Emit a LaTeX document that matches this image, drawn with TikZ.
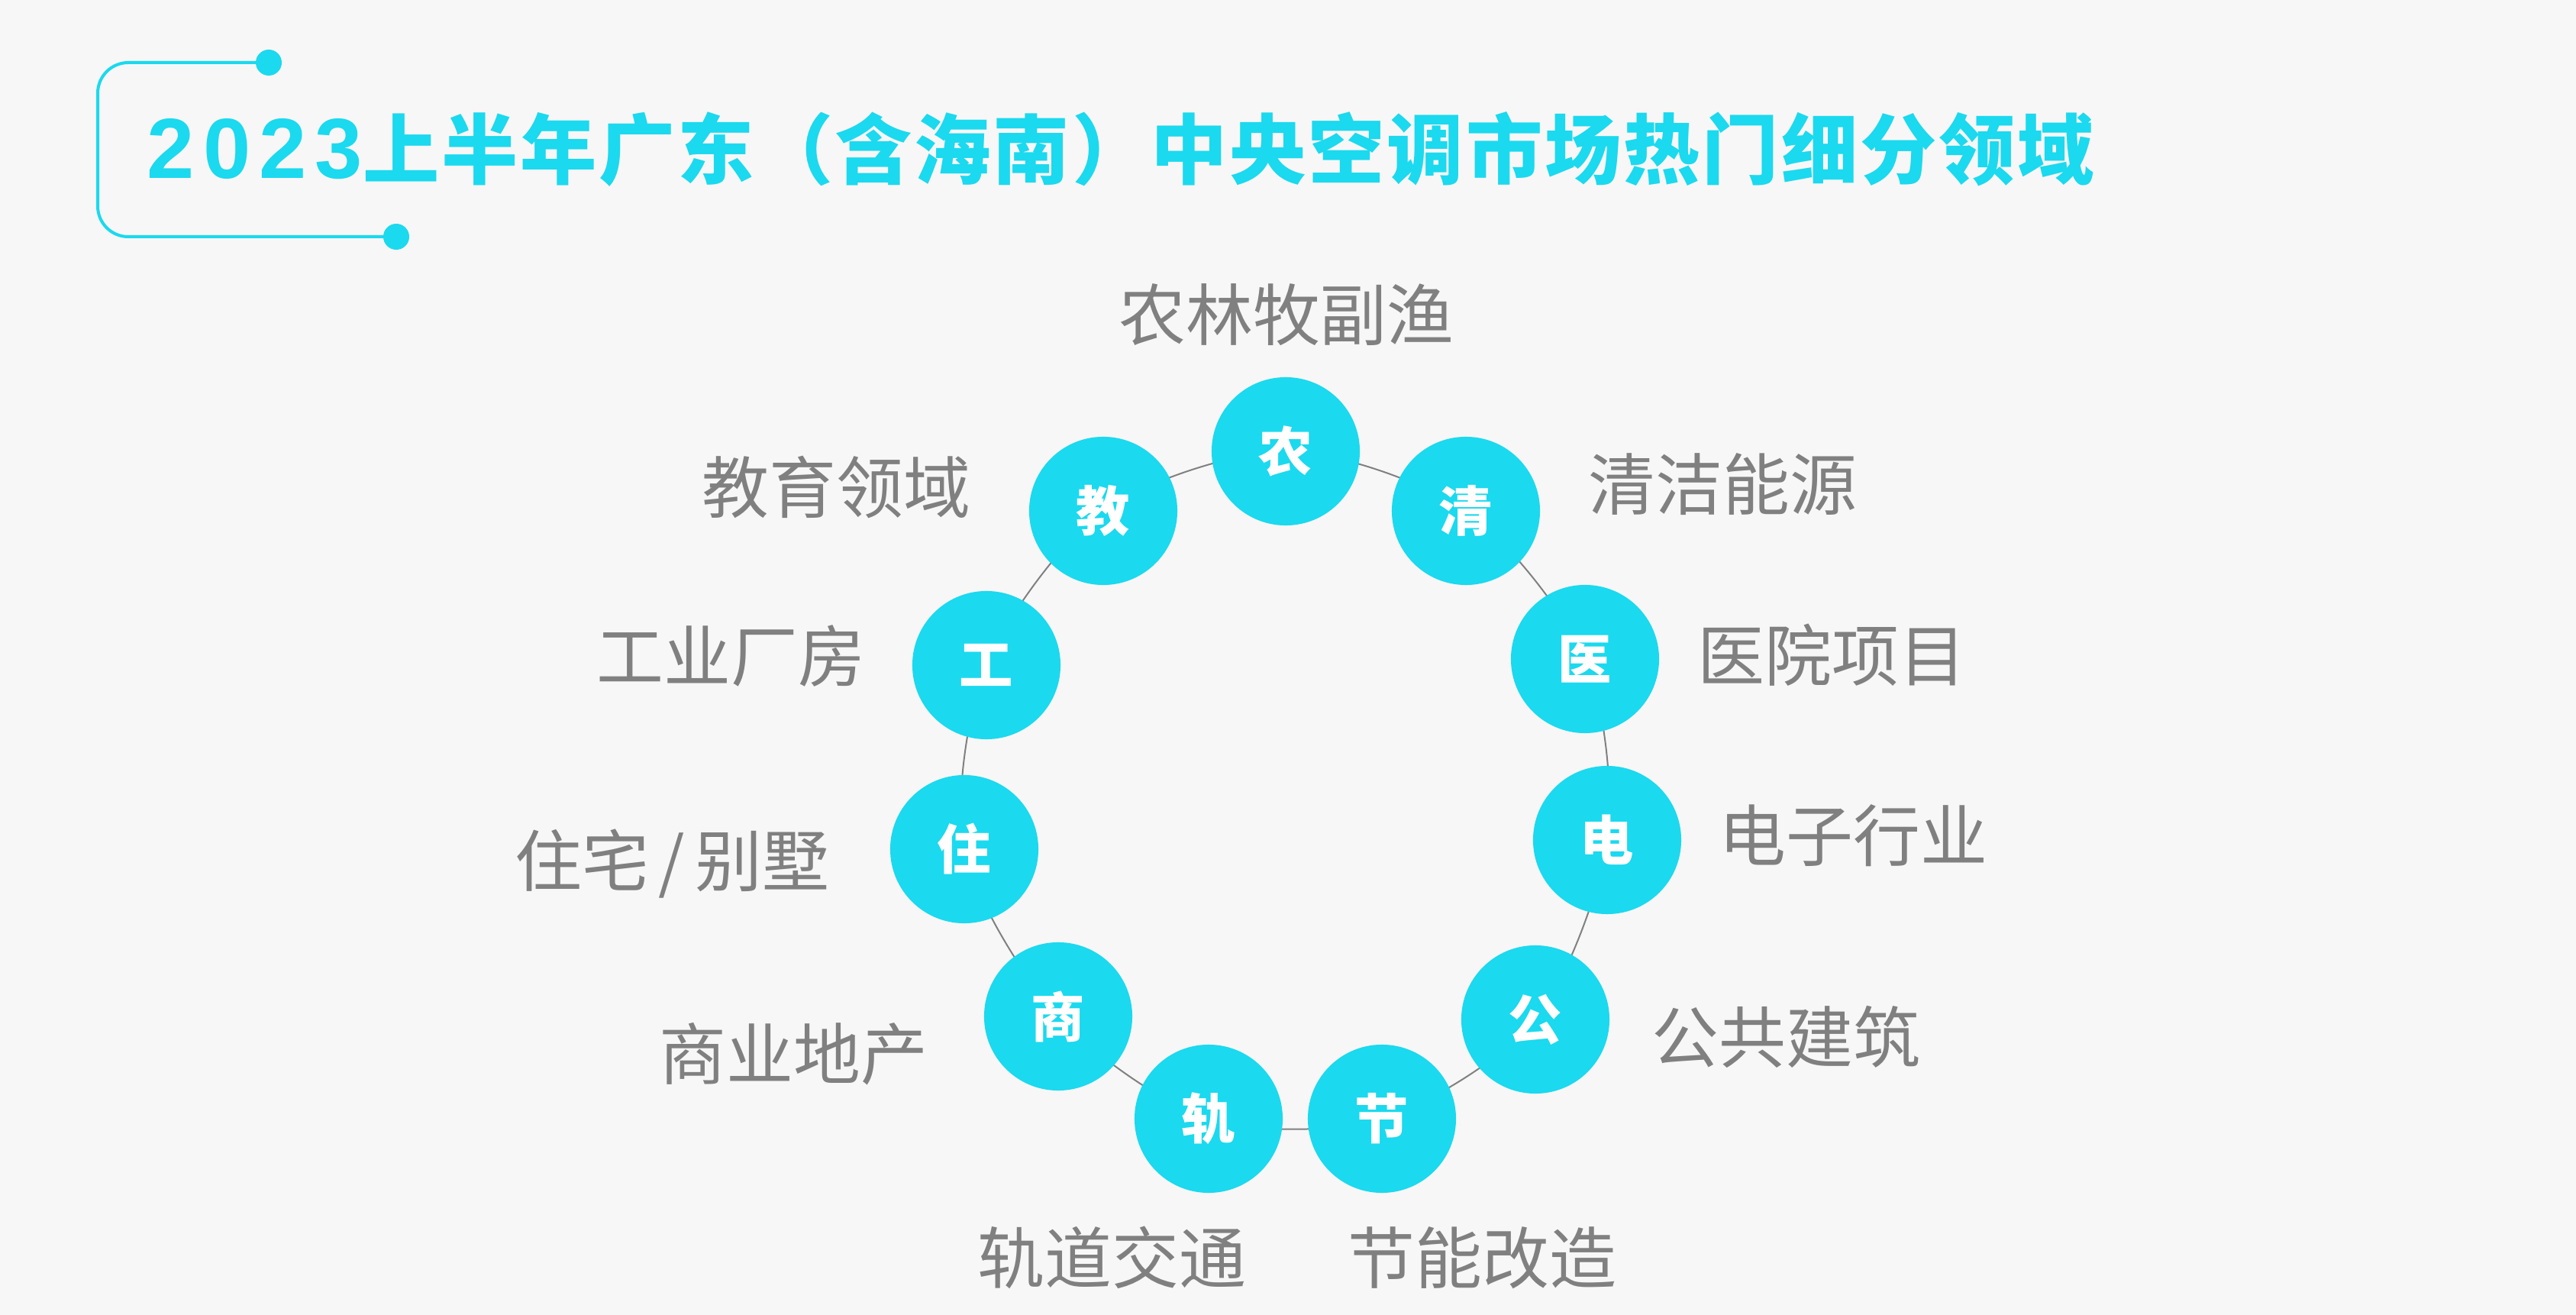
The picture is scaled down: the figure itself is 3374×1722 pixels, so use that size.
\documentclass[tikz,border=0pt]{standalone}
\usepackage{fontspec}
\usepackage{xcolor}
\usepackage{tikz}
\newfontfamily\cjk{Noto Sans CJK SC}
\newfontfamily\cjkhead{Noto Sans CJK SC}[LetterSpace=3]
\newfontfamily\digithead{Liberation Sans}[LetterSpace=10]
\definecolor{ringcyan}{HTML}{1BD9EE}
\definecolor{labelgray}{HTML}{808080}
\definecolor{paper}{HTML}{F7F7F7}

\begin{document}
\begin{tikzpicture}[x=0.01cm, y=-0.01cm, every node/.style={inner sep=0pt, font=\cjk}, ball/.style={circle, fill=ringcyan, text=white, minimum size=1.94cm, font=\cjk\fontsize{20}{20}\selectfont\bfseries}, tag/.style={text=labelgray, font=\cjk\fontsize{25}{25}\selectfont}]
  \fill[paper] (0,0) rectangle (3374,1722);
  \useasboundingbox (0,0) rectangle (3374,1722);
  % title bracket
  \draw[ringcyan, line width=0.04cm, rounded corners=0.4cm] (352,82) -- (128,82) -- (128,310) -- (519,310);
  \fill[ringcyan] (352,82) circle (17) (519,310) circle (17);
  \node[anchor=west, text=ringcyan, font=\bfseries] (title) at (192,196) {{\digithead\fontsize{31.8}{31.8}\selectfont 2023}{\cjkhead\fontsize{28.5}{28.5}\selectfont 上半年广东（含海南）中央空调市场热门细分领域}};
  % ring
  \foreach \n/\x/\y in {nong/1684/591, qing/1920/669, yi/2076/863, dian/2105/1100, gong/2011/1335, jie/1810/1465, gui/1583/1465, shang/1386/1331, zhu/1263/1112, gongye/1292/871, jiao/1445/669}
    \coordinate (\n) at (\x,\y);
  \draw[labelgray, line width=0.02cm] plot[smooth cycle] coordinates {(nong) (qing) (yi) (dian) (gong) (jie) (gui) (shang) (zhu) (gongye) (jiao)};
  \foreach \n/\c in {nong/农, qing/清, yi/医, dian/电, gong/公, jie/节, gui/轨, shang/商, zhu/住, gongye/工, jiao/教}
    \node[ball] (b\n) at (\n) {\c};
  % labels
  \node[tag, anchor=center] (tnong) at (1685,412) {农林牧副渔};
  \node[tag, anchor=west] (tqing) at (2080,634) {清洁能源};
  \node[tag, anchor=west] (tyi) at (2223,858) {医院项目};
  \node[tag, anchor=west] (tdian) at (2251,1094) {电子行业};
  \node[tag, anchor=west] (tgong) at (2163,1358) {公共建筑};
  \node[tag, anchor=west] (tjie) at (1765,1647) {节能改造};
  \node[tag, anchor=east] (tgui) at (1633,1647) {轨道交通};
  \node[tag, anchor=east] (tshang) at (1216,1380) {商业地产};
  \node[tag, anchor=east] (tzhu) at (1087,1131) {住宅\hspace{0.13cm}/\hspace{0.13cm}别墅};
  \node[tag, anchor=east] (tgongye) at (1134,859) {工业厂房};
  \node[tag, anchor=east] (tjiao) at (1272,638) {教育领域};
\end{tikzpicture}
\end{document}
